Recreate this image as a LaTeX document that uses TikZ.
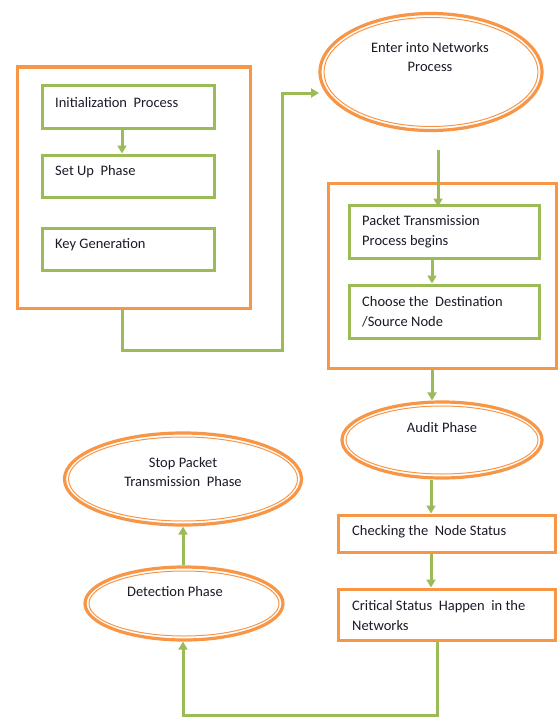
\documentclass[tikz,border=0pt]{standalone}
\usepackage{fontspec}
\setmainfont{Carlito}
\usetikzlibrary{shapes.geometric,arrows.meta}
\definecolor{org}{HTML}{F79646}
\definecolor{grn}{HTML}{9BBB59}
\definecolor{txt}{HTML}{1A1A28}
\begin{document}
\begin{tikzpicture}[x=1pt,y=-1pt,
  obox/.style={draw=org, line width=3pt, rectangle, inner sep=0pt},
  gbox/.style={draw=grn, line width=3pt, rectangle, inner sep=0pt},
  ell/.style={ellipse, draw=org, line width=3.2pt, inner sep=0pt},
  ellin/.style={ellipse, draw=org, line width=1pt, inner sep=0pt},
  lbl/.style={font=\fontsize{14.5}{20}\selectfont, text=txt, inner sep=0pt, align=left},
  clbl/.style={font=\fontsize{14.5}{19}\selectfont, text=txt, inner sep=0pt, align=center},
  arr/.style={draw=grn, line width=3pt, -{Triangle[length=8pt,width=9pt]}},
]
\useasboundingbox (0,0) rectangle (558,717);

% left group
\node[obox, minimum width=233pt, minimum height=241pt] (leftbox) at (133.5,187.5) {};
\node[gbox, minimum width=172pt, minimum height=43pt] (init) at (128,106.5) {};
\node[gbox, minimum width=172pt, minimum height=42pt] (setup) at (128,176) {};
\node[gbox, minimum width=172pt, minimum height=42pt] (keygen) at (128,249) {};
\node[lbl, anchor=west] (tinit) at (55,103) {Initialization\ \ Process};
\node[lbl, anchor=west] (tsetup) at (55,172) {Set Up\ \ Phase};
\node[lbl, anchor=west] (tkey) at (55,245) {Key Generation};

% right group
\node[obox, minimum width=228pt, minimum height=185pt] (rightbox) at (442,275.5) {};
\node[gbox, minimum width=190pt, minimum height=53pt] (packet) at (444,231.5) {};
\node[gbox, minimum width=190pt, minimum height=53pt] (choose) at (444,311.5) {};
\node[lbl, anchor=west] (tpacket) at (362,232) {Packet Transmission\\Process begins};
\node[lbl, anchor=west] (tchoose) at (362,312) {Choose the\ \ Destination\\/Source Node};

\node[obox, minimum width=217pt, minimum height=37pt] (check) at (446.5,533.5) {};
\node[obox, minimum width=217pt, minimum height=51pt] (crit) at (446.5,614.5) {};
\node[lbl, anchor=west] (tcheck) at (352,532) {Checking the\ \ Node Status};
\node[lbl, anchor=west] (tcrit) at (352,616) {Critical Status\ \ Happen\ \ in the\\Networks};

% ellipses
\node[ell, minimum width=222pt, minimum height=117pt] (enter) at (431,72) {};
\node[ellin, minimum width=214pt, minimum height=109pt] (enterin) at (431,72) {};
\node[clbl] (tenter) at (430,57) {Enter into Networks\\Process};

\node[ell, minimum width=200pt, minimum height=76pt] (audit) at (442,440) {};
\node[ellin, minimum width=192pt, minimum height=68pt] (auditin) at (442,440) {};
\node[clbl] (taudit) at (442,428) {Audit Phase};

\node[ell, minimum width=237pt, minimum height=92pt] (stop) at (183,479) {};
\node[ellin, minimum width=229pt, minimum height=84pt] (stopin) at (183,479) {};
\node[clbl] (tstop) at (183,472) {Stop Packet\\Transmission\ \ Phase};

\node[ell, minimum width=198pt, minimum height=73pt] (detect) at (184,603.5) {};
\node[ellin, minimum width=190pt, minimum height=65pt] (detectin) at (184,603.5) {};
\node[clbl] (tdetect) at (175,592) {Detection Phase};

% connector coordinates
\coordinate (xa) at (122,0);
\coordinate (turn1) at (282,350);
\coordinate (turn2) at (282,93);
\coordinate (entin) at (319,93);
\coordinate (eo) at (438,150);
\coordinate (xb) at (432,0);
\coordinate (xbb) at (431,0);
\coordinate (b1) at (437,715);
\coordinate (b2) at (183,715);

% connectors
\draw[arr] (init.south -| xa) -- (setup.north -| xa);
\draw[arr] (leftbox.south -| xa) |- (turn1) -- (turn2) -- (entin);
\draw[arr, shorten >=-3pt] (eo) -- (packet.north -| eo);
\draw[arr] (packet.south -| xb) -- (choose.north -| xb);
\draw[arr] (rightbox.south -| xb) -- (audit.north -| xb);
\draw[arr] (audit.south -| xbb) -- (check.north -| xbb);
\draw[arr] (check.south -| xbb) -- (crit.north -| xbb);
\draw[arr] (crit.south -| b1) -- (b1) -- (b2) -- (detect.south -| b2);
\draw[arr] (detect.north -| b2) -- (stop.south -| b2);
\end{tikzpicture}
\end{document}
